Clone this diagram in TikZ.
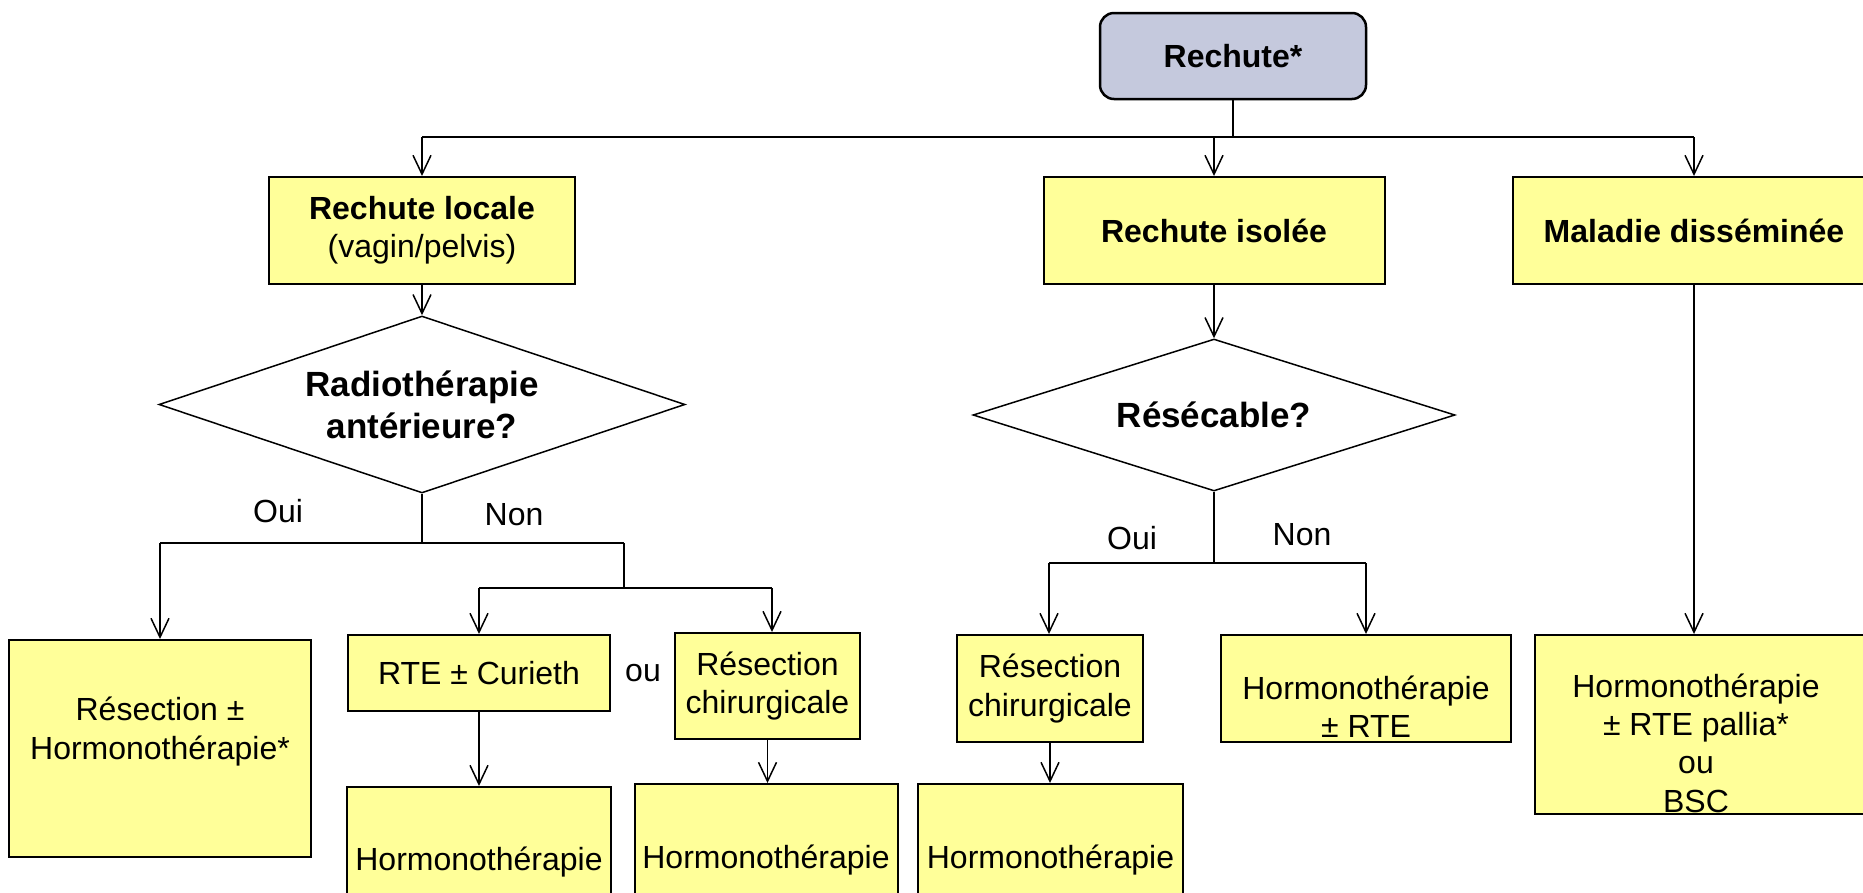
\documentclass[tikz,border=0pt]{standalone}
\usepackage{fontspec}
\setmainfont{Liberation Sans}
\usetikzlibrary{arrows.meta,shapes.geometric}
\definecolor{boxyellow}{RGB}{255,255,153}
\definecolor{topfill}{RGB}{197,201,221}
\begin{document}
\begin{tikzpicture}[x=1pt,y=-1pt,
  box/.style={draw=black, line width=2pt, fill=boxyellow, inner sep=0pt, align=center, font=\fontsize{32}{38.4}\selectfont},
  boldbox/.style={box, font=\fontsize{32}{38.4}\selectfont\bfseries},
  dec/.style={draw=black, line width=1.5pt, fill=white, diamond, inner sep=0pt, align=center, font=\fontsize{35}{42}\selectfont\bfseries},
  conn/.style={line width=1.5pt, draw=black},
  arr/.style={conn, -{Straight Barb[length=19pt,width=18pt]}},
  lbl/.style={inner sep=0pt, align=center, font=\fontsize{32}{38.4}\selectfont},
]
\useasboundingbox (0,0) rectangle (1863,892);
\clip (0,0) rectangle (1863,892);

% top level
\node[boldbox, fill=topfill, rounded corners=14pt, line width=2.5pt, minimum width=266pt, minimum height=86pt] (rechute) at (1233,56) {Rechute*};
\node[boldbox, minimum width=306pt, minimum height=107pt] (locale) at (422,230.5) {Rechute locale\\{\mdseries (vagin/pelvis)}};
\node[boldbox, minimum width=341pt, minimum height=107pt] (isolee) at (1214,230.5) {Rechute isolée};
\node[boldbox, minimum width=362pt, minimum height=107pt] (maladie) at (1694,230.5) {Maladie disséminée};

\coordinate (j0) at (1233,137);
\coordinate (jl) at (422,137);
\coordinate (jm) at (1214,137);
\coordinate (jr) at (1694,137);
\draw[conn] (rechute.south) -- (j0);
\draw[conn] (jl) -- (jr);
\draw[arr] (jl) -- (locale.north);
\draw[arr] (jm) -- (isolee.north);
\draw[arr] (jr) -- (maladie.north);

% decisions
\node[dec, aspect=2.972, minimum width=526pt, minimum height=177pt] (radio) at (422,404.5) {Radiothérapie\\antérieure?};
\node[dec, aspect=3.171, minimum width=482pt, minimum height=152pt] (resec) at (1214,415) {Résécable?};
\draw[arr] (locale.south) -- (radio.north);
\draw[arr] (isolee.south) -- (resec.north);

% left branch boxes
\node[box, minimum width=302pt, minimum height=217pt] (resho) at (160,748.5) {};
\node[lbl] (reshot) at (160,731.5) {Résection ±\\Hormonothérapie*};
\node[box, minimum width=262pt, minimum height=76pt] (rte) at (479,673) {RTE ± Curieth};
\node[lbl] (ou1) at (643,673) {ou};
\node[box, minimum width=185pt, minimum height=106pt] (resch1) at (767.5,686) {Résection\\chirurgicale};
\node[box, minimum width=264pt, minimum height=150pt] (hormo1) at (479,862) {Hormonothérapie};
\node[box, minimum width=263pt, minimum height=152pt] (hormo2) at (766,860) {Hormonothérapie};

\coordinate (r1) at (422,543);
\coordinate (rL) at (160,543);
\coordinate (rR) at (624,543);
\coordinate (rR2) at (624,588);
\coordinate (nL) at (479,588);
\coordinate (nR) at (772,588);
\draw[conn] (radio.south) -- (r1);
\draw[conn] (rL) -- (rR);
\draw[arr] (rL) -- (resho.north);
\draw[conn] (rR) -- (rR2);
\draw[conn] (nL) -- (nR);
\draw[arr] (nL) -- (rte.north);
\draw[arr] (nR) -- (nR |- resch1.north);
\draw[arr] (rte.south) -- (hormo1.north);
\draw[arr] (resch1.south) -- (resch1.south |- hormo2.north);
\node[lbl] (oui1) at (278,511) {Oui};
\node[lbl] (non1) at (514,515) {Non};

% middle branch
\node[box, minimum width=186pt, minimum height=107pt] (resch2) at (1050,688.5) {Résection\\chirurgicale};
\node[box, minimum width=290pt, minimum height=107pt] (hormrte) at (1366,688.5) {};
\node[lbl] (hormrtet) at (1366,707) {Hormonothérapie\\± RTE};
\node[box, minimum width=265pt, minimum height=152pt] (hormo3) at (1050.5,860) {Hormonothérapie};

\coordinate (s1) at (1214,563);
\coordinate (sL) at (1049,563);
\coordinate (sR) at (1366,563);
\draw[conn] (resec.south) -- (s1);
\draw[conn] (sL) -- (sR);
\draw[arr] (sL) -- (sL |- resch2.north);
\draw[arr] (sR) -- (hormrte.north);
\draw[arr] (resch2.south) -- (resch2.south |- hormo3.north);
\node[lbl] (oui2) at (1132,538) {Oui};
\node[lbl] (non2) at (1302,535) {Non};

% right branch
\node[box, minimum width=331pt, minimum height=179pt] (malbox) at (1700.5,724.5) {};
\node[lbl] (malt) at (1696,743) {Hormonothérapie\\± RTE pallia*\\ou\\BSC};
\draw[arr] (maladie.south) -- (maladie.south |- malbox.north);
\end{tikzpicture}
\end{document}
